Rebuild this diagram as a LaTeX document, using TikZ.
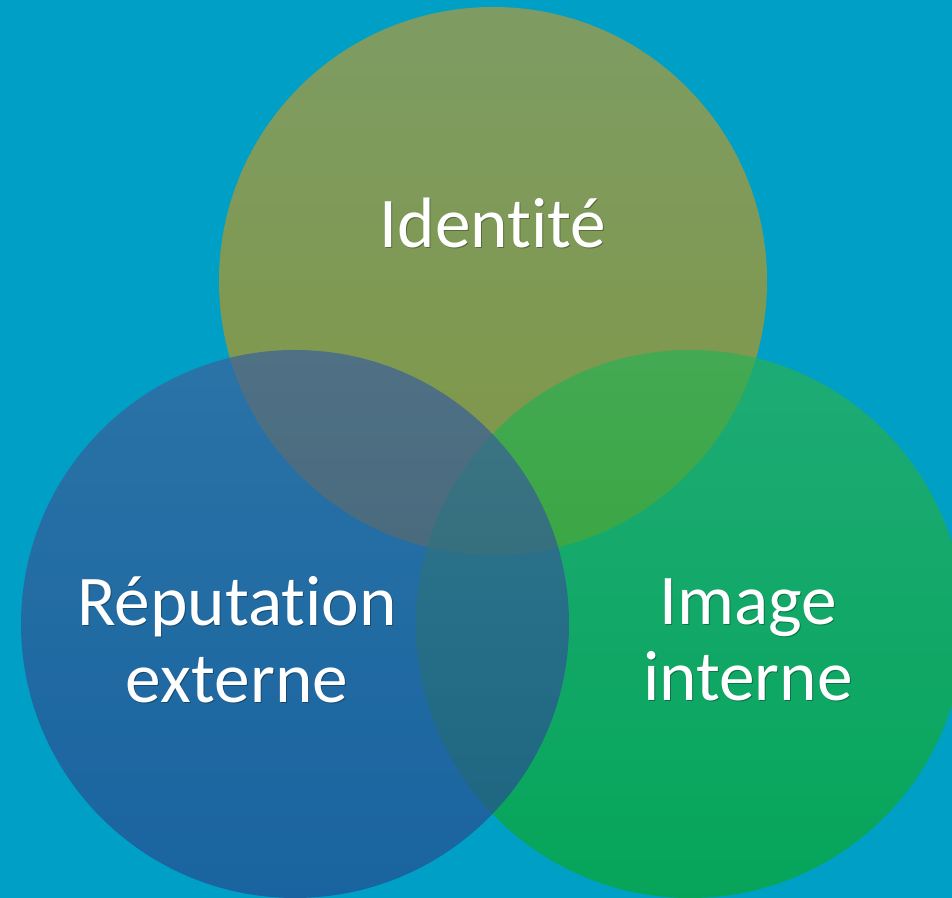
\documentclass[tikz,border=0pt]{standalone}
\usepackage{fontspec}
\setmainfont{Carlito}[Ligatures=NoCommon]
\definecolor{fond}{RGB}{0,160,198}
\definecolor{oliveH}{RGB}{180,154,58}
\definecolor{oliveB}{RGB}{183,149,15}
\definecolor{bleuH}{RGB}{60,97,155}
\definecolor{bleuB}{RGB}{37,74,144}
\definecolor{vertH}{RGB}{43,177,84}
\definecolor{vertB}{RGB}{9,167,44}
\tikzset{
  cercle/.style={fill opacity=0.7, draw=none},
  etiq/.style={text=white, align=center, font=\fontsize{20.3}{21.8}\selectfont},
  ombre/.style={etiq, text=black, text opacity=0.3}
}
\begin{document}
\begin{tikzpicture}
   \fill[fond] (0,0) rectangle (9.52,8.98);
   \clip (0,0) rectangle (9.52,8.98);
   \shade[cercle, top color=oliveH, bottom color=oliveB] (4.93,6.17) circle (2.74cm);
   \shade[cercle, top color=vertH, bottom color=vertB] (6.90,2.74) circle (2.74cm);
   \shade[cercle, top color=bleuH, bottom color=bleuB] (2.95,2.74) circle (2.74cm);
   \node[ombre, anchor=base] (identO) at (4.94,6.49) {Identité};
   \node[etiq, anchor=base] (ident) at (4.93,6.50) {Identité};
   \node[ombre] (reputO) at (2.38,2.57) {Réputation\\externe};
   \node[etiq] (reput) at (2.37,2.58) {Réputation\\externe};
   \node[ombre] (imageO) at (7.49,2.57) {Image\\interne};
   \node[etiq] (image) at (7.48,2.58) {Image\\interne};
\end{tikzpicture}
\end{document}
